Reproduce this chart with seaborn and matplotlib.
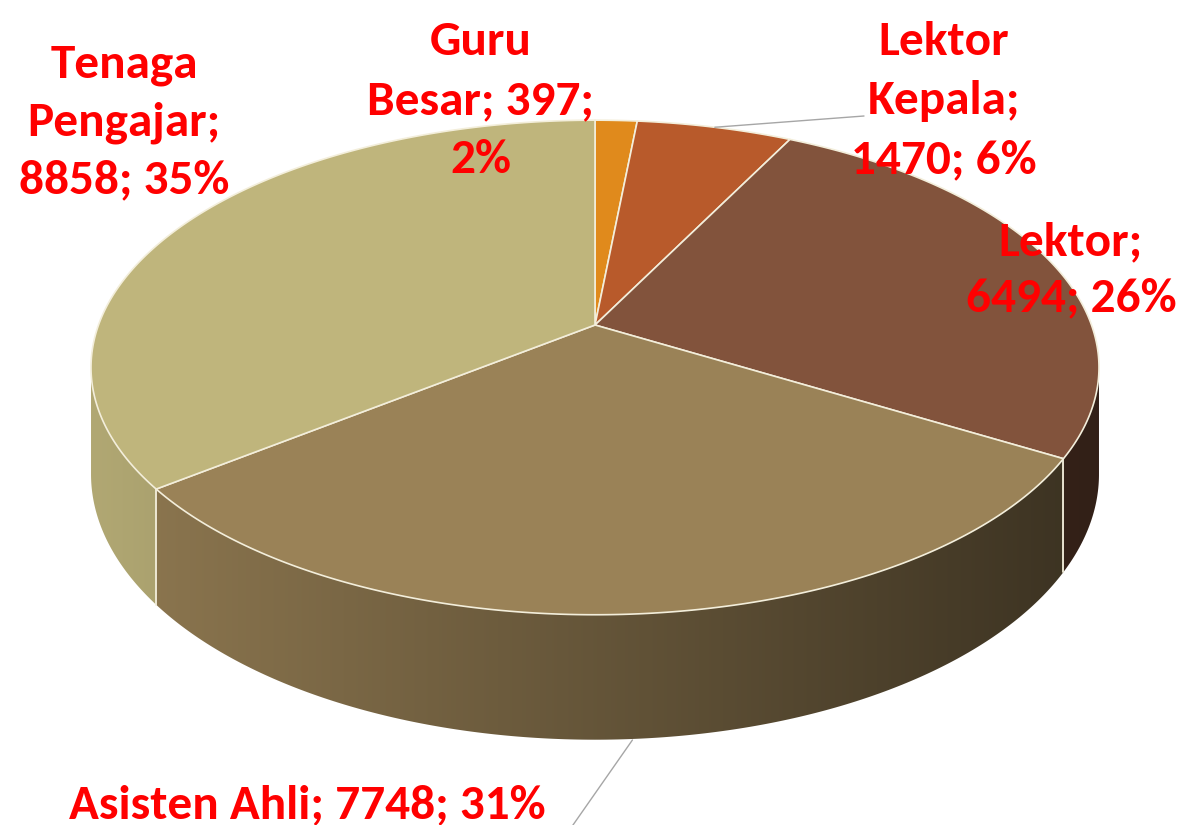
import numpy as np
import matplotlib
matplotlib.use("Agg")
import matplotlib.pyplot as plt
from matplotlib.patches import Polygon
from matplotlib import font_manager
import seaborn as sns

# ---------------- data ----------------
categories = ["Guru Besar", "Lektor Kepala", "Lektor", "Asisten Ahli", "Tenaga Pengajar"]
values = [397, 1470, 6494, 7748, 8858]
top_colors = ["#E08A1C", "#B85A2B", "#82533C", "#9A8257", "#BFB57C"]
# how many words of each label go on each line
line_groups = [[1, 2, 1], [1, 1, 2], [1, 2], [4], [1, 1, 2]]

# ---------------- style ----------------
sns.set_theme(style="white")
names = {f.name for f in font_manager.fontManager.ttflist}
family = "Lato"
for cand in ["Carlito", "Liberation Sans Narrow", "Lato"]:
    if cand in names:
        family = cand
        break
plt.rcParams["font.family"] = [family, "DejaVu Sans"]

W, Hpx = 1183, 825
fig = plt.figure(figsize=(W / 100, Hpx / 100), dpi=100)
ax = fig.add_axes([0, 0, 1, 1])
ax.set_xlim(0, W)
ax.set_ylim(Hpx, 0)
ax.axis("off")

# ---------------- 3D pie geometry ----------------
CX, CY = 595.0, 325.0
A, B, K, DEPTH = 496.5, 240.0, 0.1717, 103.5


def proj(phi_deg, r=1.0, depth=0.0):
    phi = np.radians(phi_deg)
    u = r * np.sin(phi)
    v = -r * np.cos(phi)
    w = 1 - K * v
    return CX + A * u / w, CY + (B * v + depth) / w


total = float(sum(values))
bounds = np.concatenate([[0], np.cumsum(values) / total * 360.0])
edge_col = "#F3EEDB"

# side walls (front part only)
vis_l = np.degrees(np.arccos(-K))
vis_r = 360 - vis_l


def shade(x):
    return np.interp(x, [85, 165, 1060, 1110], [0.93, 0.89, 0.40, 0.38])


for i in range(len(values)):
    s, e = max(bounds[i], vis_l), min(bounds[i + 1], vis_r)
    if e <= s:
        continue
    ph = np.linspace(s, e, 200)
    tx, ty = proj(ph)
    bx, by = proj(ph[::-1], depth=DEPTH)
    px = np.concatenate([tx, bx])
    py = np.concatenate([ty, by])
    poly = Polygon(np.column_stack([px, py]), closed=True, facecolor="none",
                   edgecolor="none", zorder=1)
    ax.add_patch(poly)
    x0, x1 = px.min() - 2, px.max() + 2
    y0, y1 = py.min() - 2, py.max() + 2
    xs = np.linspace(x0, x1, 400)
    base = np.array(matplotlib.colors.to_rgb(top_colors[i]))
    row = np.clip(base[None, :] * shade(xs)[:, None], 0, 1)
    img = np.repeat(row[None, :, :], 2, axis=0)
    im = ax.imshow(img, extent=(x0, x1, y1, y0), aspect="auto",
                   interpolation="bilinear", zorder=1)
    im.set_clip_path(poly)

# seams on the walls
for b in bounds[1:-1]:
    if vis_l < b < vis_r:
        x_t, y_t = proj(b)
        x_b, y_b = proj(b, depth=DEPTH)
        ax.plot([x_t, x_b], [y_t, y_b], color=edge_col, lw=1.3, zorder=2,
                solid_capstyle="round")

# top faces
for i in range(len(values)):
    ph = np.linspace(bounds[i], bounds[i + 1], 300)
    ax_, ay_ = proj(ph)
    px = np.concatenate([[CX], ax_])
    py = np.concatenate([[CY], ay_])
    ax.add_patch(Polygon(np.column_stack([px, py]), closed=True,
                         facecolor=top_colors[i], edgecolor=edge_col,
                         lw=1.2, joinstyle="round", zorder=3))

ax.set_xlim(0, W)
ax.set_ylim(Hpx, 0)

# ---------------- labels ----------------
pcts = [round(100 * v / total) for v in values]
labels = []
for c, v, p, g in zip(categories, values, pcts, line_groups):
    words = f"{c}; {v}; {p}%".split(" ")
    lines, k = [], 0
    for n in g:
        lines.append(" ".join(words[k:k + n]))
        k += n
    labels.append(lines)

# fit font size to the widest single-line label
renderer = fig.canvas.get_renderer()
probe = ax.text(0, 0, labels[3][0], fontsize=30, fontweight="bold")
wpx = probe.get_window_extent(renderer).width
probe.remove()
fs = 30 * 475.0 / wpx

label_pos = [  # x centre, first baseline, line pitch
    (481, 55, 59),
    (944, 55, 59),
    (1071, 255, 56),
    (307, 818, 58),
    (124, 77, 58),
]
for lines, (lx, ly, pitch) in zip(labels, label_pos):
    for j, t in enumerate(lines):
        ax.text(lx, ly + j * pitch, t, ha="center", va="baseline",
                fontsize=fs, fontweight="bold", color="#FF0000", zorder=6)

# leader lines
lk_mid = (bounds[1] + bounds[2]) / 2
x_s, y_s = proj(lk_mid)
ax.plot([x_s, 864], [y_s, 116], color="#A6A6A6", lw=1.0, zorder=5)
aa_mid = (bounds[3] + bounds[4]) / 2
x_s, y_s = proj(aa_mid, depth=DEPTH)
ax.plot([x_s, 566], [y_s + 1, 835], color="#A6A6A6", lw=1.0, zorder=5,
        clip_on=True)

fig.savefig("out.png", dpi=100)
